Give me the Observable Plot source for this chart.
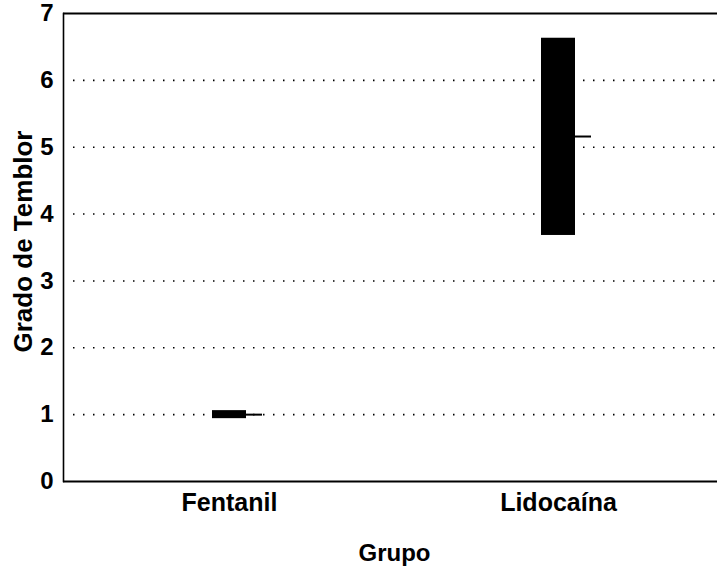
<!DOCTYPE html>
<html>
<head>
<meta charset="utf-8">
<script src="https://cdn.jsdelivr.net/npm/d3@7"></script>
<script src="https://cdn.jsdelivr.net/npm/@observablehq/plot@0.6"></script>
<style>
  html, body { margin: 0; padding: 0; background: #fff; }
</style>
</head>
<body>
<div id="chart"></div>
<script>
const grupos = ["Fentanil", "Lidocaína"];
const limiteInferior = [0.94, 3.68];
const limiteSuperior = [1.06, 6.63];
const mediana = [1.0, 5.16];
const yTicks = [0, 1, 2, 3, 4, 5, 6, 7];
const gridTicks = [1, 2, 3, 4, 5, 6];
const yLabel = "Grado de Temblor";
const xLabel = "Grupo";

const data = grupos.map((g, i) => ({
  grupo: g, lo: limiteInferior[i], hi: limiteSuperior[i], med: mediana[i]
}));

const font = "'Liberation Sans', Arial, Helvetica, sans-serif";

const chart = Plot.plot({
  width: 717,
  height: 574,
  marginLeft: 63,
  marginRight: 0,
  marginTop: 13,
  marginBottom: 93,
  style: { fontFamily: font, background: "#fff", color: "#000" },
  x: { domain: grupos, range: [64, 723.4], paddingInner: 0.8968, paddingOuter: 0.449, label: null },
  y: { domain: [0, 7], label: null },
  marks: [
    Plot.ruleY(gridTicks, { insetLeft: 10, stroke: "#000", strokeWidth: 1.6, strokeDasharray: "1.5,8.5" }),
    Plot.ruleY([0, 7], { stroke: "#000", strokeWidth: 2 }),
    Plot.frame({ anchor: "left", stroke: "#000", strokeWidth: 1.6 }),
    Plot.barY(data, { x: "grupo", y1: "lo", y2: "hi", fill: "#000" }),
    Plot.tickY(data, { x: "grupo", y: "med", dx: 34, insetRight: 18, stroke: "#000", strokeWidth: 2 }),
    Plot.axisY({ ticks: yTicks, tickSize: 0, tickPadding: 10, fontSize: 24, fontWeight: "bold", label: null, tickFormat: d => String(d) }),
    Plot.axisX({ tickSize: 0, tickPadding: 12, fontSize: 25, fontWeight: "bold", label: null }),
    Plot.text([yLabel], { text: d => d, frameAnchor: "left", textAnchor: "middle", rotate: -90, dx: -40, dy: -6, fontSize: 26, fontWeight: "bold", fill: "#000" }),
    Plot.text([xLabel], { text: d => d, frameAnchor: "bottom", textAnchor: "middle", lineAnchor: "bottom", dx: 4, dy: 79, fontSize: 24, fontWeight: "bold", fill: "#000" })
  ]
});

document.getElementById("chart").appendChild(chart);
</script>
</body>
</html>
